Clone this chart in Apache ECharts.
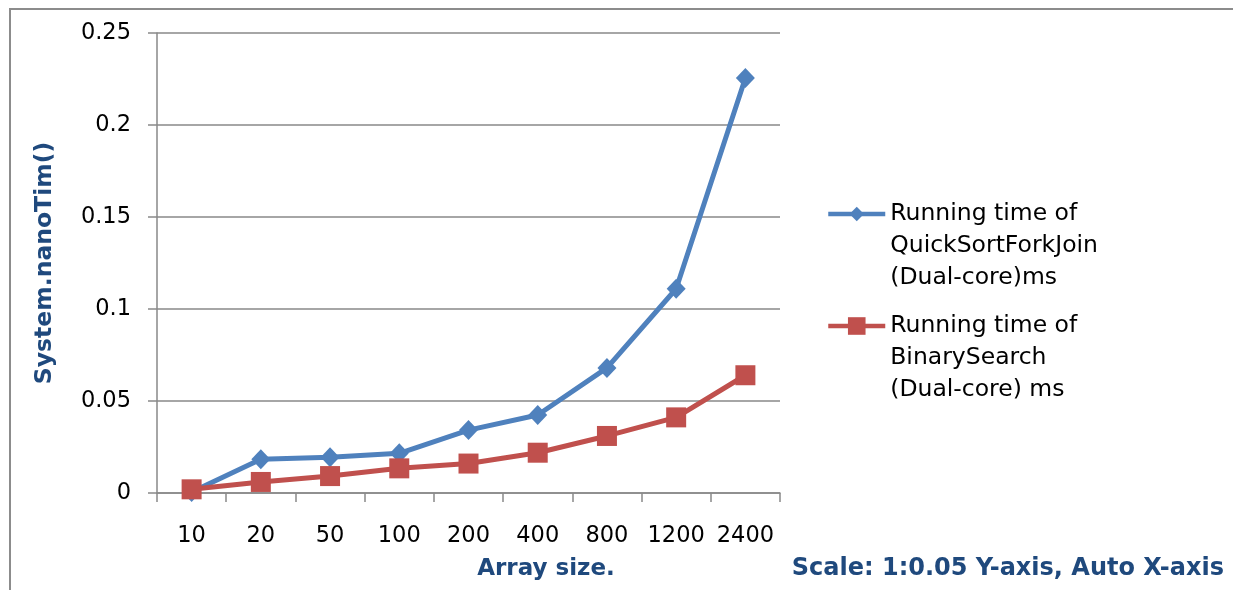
<!DOCTYPE html>
<html>
<head>
<meta charset="utf-8">
<style>
  html, body { margin: 0; padding: 0; background: #ffffff; }
  #chart { width: 1233px; height: 590px; }
</style>
<script src="https://cdn.jsdelivr.net/npm/echarts@6/dist/echarts.min.js"></script>
</head>
<body>
<div id="chart"></div>
<script>
// Array sizes on the category axis
const arraySizes = ['10', '20', '50', '100', '200', '400', '800', '1200', '2400'];
// Running times (ms)
const quickSortForkJoin = [0.0005, 0.0183, 0.0194, 0.0216, 0.0342, 0.0424, 0.068, 0.111, 0.2255];
const binarySearch = [0.002, 0.006, 0.0092, 0.0134, 0.016, 0.0219, 0.031, 0.0411, 0.064];
// Value axis settings
const yMin = 0, yMax = 0.25, yStep = 0.05;

const seriesNames = [
  'Running time of\nQuickSortForkJoin\n(Dual-core)ms',
  'Running time of\nBinarySearch\n(Dual-core) ms'
];

const FONT = 'DejaVu Sans';
const GRID_GRAY = '#898989';
const TITLE_BLUE = '#1F497D';
const BLUE = '#4F81BD';
const RED = '#C0504D';

const legendCommon = {
  left: 826,
  padding: 0,
  itemWidth: 57,
  itemGap: 0,
  selectedMode: false,
  lineStyle: { width: 4.5 },
  // two leading blank lines put the symbol level with the first text line
  formatter: name => '\n\n' + name,
  textStyle: { fontFamily: FONT, fontSize: 23.5, color: '#000000', lineHeight: 32 }
};

const chart = echarts.init(document.getElementById('chart'), null, { renderer: 'canvas' });

chart.setOption({
  animation: false,
  backgroundColor: '#ffffff',
  grid: { left: 157, top: 33, width: 623, height: 460, containLabel: false },
  legend: [
    Object.assign({ data: [seriesNames[0]], top: 134, itemHeight: 18 }, legendCommon),
    Object.assign({ data: [seriesNames[1]], top: 246, itemHeight: 22 }, legendCommon)
  ],
  xAxis: {
    type: 'category',
    data: arraySizes,
    boundaryGap: true,
    axisLine: { show: true, lineStyle: { color: GRID_GRAY, width: 1.5 } },
    axisTick: { show: true, interval: 0, length: 9, lineStyle: { color: GRID_GRAY, width: 1.5 } },
    axisLabel: { interval: 0, margin: 32, fontFamily: FONT, fontSize: 22.5, color: '#000000' },
    splitLine: { show: false }
  },
  yAxis: {
    type: 'value',
    min: yMin, max: yMax, interval: yStep,
    name: 'System.nanoTim()',
    nameLocation: 'middle',
    nameGap: 100,
    nameTextStyle: { fontFamily: FONT, fontSize: 23.5, fontWeight: 'bold', color: TITLE_BLUE },
    axisLine: { show: true, lineStyle: { color: GRID_GRAY, width: 1.5 } },
    axisTick: { show: true, length: 9, lineStyle: { color: GRID_GRAY, width: 1.5 } },
    axisLabel: { margin: 26, fontFamily: FONT, fontSize: 22.5, color: '#000000' },
    splitLine: { show: true, lineStyle: { color: GRID_GRAY, width: 1.5 } }
  },
  series: [
    {
      name: seriesNames[0],
      type: 'line',
      data: quickSortForkJoin,
      symbol: 'diamond',
      symbolSize: [19, 20],
      showAllSymbol: true,
      color: BLUE,
      lineStyle: { color: BLUE, width: 5 },
      itemStyle: { color: BLUE },
      z: 2
    },
    {
      name: seriesNames[1],
      type: 'line',
      data: binarySearch,
      symbol: 'rect',
      symbolSize: 20,
      showAllSymbol: true,
      color: RED,
      lineStyle: { color: RED, width: 5 },
      itemStyle: { color: RED },
      z: 3
    }
  ],
  graphic: [
    {
      type: 'rect',
      shape: { x: 10, y: 9, width: 1400, height: 800 },
      style: { fill: 'none', stroke: '#8c8c8c', lineWidth: 2 },
      silent: true
    },
    {
      type: 'text',
      x: 546, y: 569,
      style: {
        text: 'Array size.', fontFamily: FONT, fontSize: 23, fontWeight: 'bold',
        fill: TITLE_BLUE, align: 'center', verticalAlign: 'middle'
      }
    },
    {
      type: 'text',
      x: 1224, y: 569,
      style: {
        text: 'Scale: 1:0.05 Y-axis, Auto X-axis', fontFamily: FONT, fontSize: 24, fontWeight: 'bold',
        fill: TITLE_BLUE, align: 'right', verticalAlign: 'middle'
      }
    }
  ]
});
</script>
</body>
</html>
